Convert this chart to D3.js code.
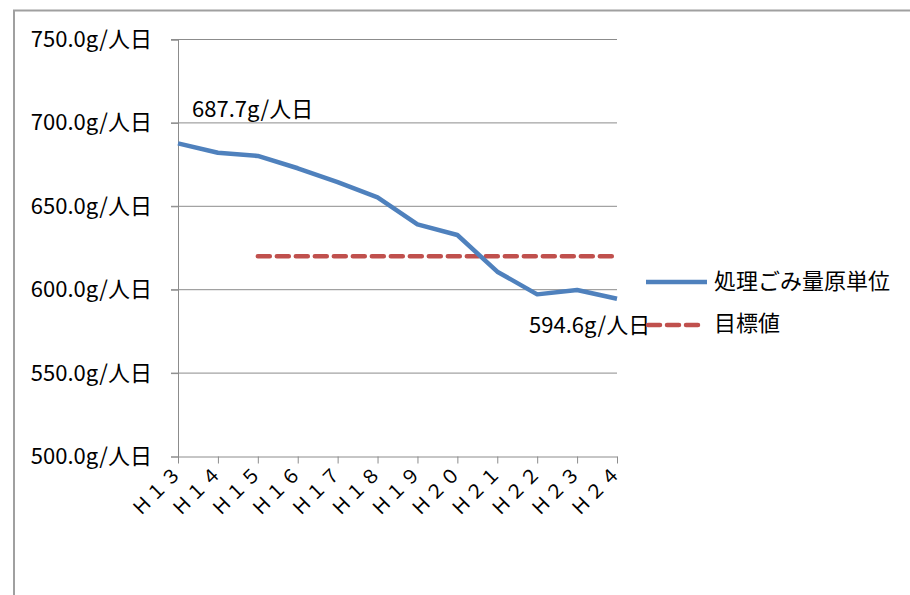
<!DOCTYPE html>
<html><head><meta charset="utf-8">
<script src="https://cdn.jsdelivr.net/npm/d3@7"></script>
<style>body{margin:0;background:#fff;} svg{display:block;}</style>
</head><body>
<svg id="c" width="910" height="595"></svg>
<script>
const categories = ["Ｈ１３","Ｈ１４","Ｈ１５","Ｈ１６","Ｈ１７","Ｈ１８","Ｈ１９","Ｈ２０","Ｈ２１","Ｈ２２","Ｈ２３","Ｈ２４"];
const actualValues = [687.7, 682.1, 680.2, 672.8, 664.5, 655.4, 639.2, 632.8, 610.8, 597.2, 599.8, 594.6];
const targetValues = [null, null, 620, 620, 620, 620, 620, 620, 620, 620, 620, 620];
const yTicks = [500, 550, 600, 650, 700, 750];
const seriesNames = ["処理ごみ量原単位", "目標値"];
const annotations = [{i: 0, text: "687.7g/人日"}, {i: 11, text: "594.6g/人日"}];

const svg = d3.select("#c");
const font = "'Noto Sans CJK JP', 'Noto Sans', sans-serif";
const grey = "#8c8c8c";

// outer border (top and left visible)
svg.append("path").attr("d", "M14,595 L14,10.5 L910,10.5").attr("fill","none").attr("stroke","#a0a0a0").attr("stroke-width",2);

const x = d3.scalePoint().domain(categories).range([178, 617]);
const y = d3.scaleLinear().domain([500, 750]).range([456.5, 39.5]);

// gridlines
svg.append("g").selectAll("line").data(yTicks.filter(d => d > 500)).join("line")
  .attr("x1", 171).attr("x2", 617).attr("y1", d => y(d)).attr("y2", d => y(d))
  .attr("stroke", grey).attr("stroke-width", 1);

// y axis
const yAxis = d3.axisLeft(y).tickValues(yTicks).tickSize(7).tickPadding(19).tickFormat(d => d3.format(".1f")(d) + "g/人日");
const gy = svg.append("g").attr("transform", "translate(178,0)").call(yAxis);
gy.select(".domain").attr("stroke", grey);
gy.selectAll(".tick line").attr("stroke", grey);
gy.selectAll("text").attr("font-family", font).attr("font-size", 22).attr("fill", "#000");

// x axis
const xAxis = d3.axisBottom(x).tickSize(7).tickSizeOuter(0);
const gx = svg.append("g").attr("transform", "translate(0,456.5)").call(xAxis);
gx.select(".domain").attr("stroke", grey);
gx.selectAll(".tick line").attr("stroke", grey);
gx.selectAll("text").attr("font-family", font).attr("font-size", 19).attr("fill", "#000")
  .attr("text-anchor", "end").attr("dy", null).attr("y", 0)
  .attr("transform", "translate(5,17) rotate(-45)")
  .style("letter-spacing", "1.5px");

// target dashed line
const line = d3.line().defined(d => d.v != null).x(d => x(d.c)).y(d => y(d.v));
svg.append("path").datum(categories.map((c, i) => ({c, v: targetValues[i]})))
  .attr("d", line).attr("fill", "none").attr("stroke", "#c0504d").attr("stroke-width", 4.5)
  .attr("stroke-dasharray", "12,7").attr("stroke-linecap", "round");

// actual line
svg.append("path").datum(categories.map((c, i) => ({c, v: actualValues[i]})))
  .attr("d", line).attr("fill", "none").attr("stroke", "#4f81bd").attr("stroke-width", 4.5)
  .attr("stroke-linejoin", "round");

// annotations
svg.append("text").attr("x", x(categories[annotations[0].i]) + 14).attr("y", y(actualValues[annotations[0].i]) - 26)
  .attr("font-family", font).attr("font-size", 22).text(annotations[0].text);
svg.append("text").attr("x", x(categories[annotations[1].i]) - 88).attr("y", y(actualValues[annotations[1].i]) + 34)
  .attr("font-family", font).attr("font-size", 22).text(annotations[1].text);

// legend
const lg = svg.append("g");
lg.append("line").attr("x1", 646).attr("x2", 707).attr("y1", 282).attr("y2", 282)
  .attr("stroke", "#4f81bd").attr("stroke-width", 4.5);
lg.append("text").attr("x", 714).attr("y", 289).attr("font-family", font).attr("font-size", 22).text(seriesNames[0]);
lg.append("line").attr("x1", 648).attr("x2", 700).attr("y1", 325).attr("y2", 325)
  .attr("stroke", "#c0504d").attr("stroke-width", 4.5).attr("stroke-dasharray", "12,7").attr("stroke-linecap", "round");
lg.append("text").attr("x", 714).attr("y", 331).attr("font-family", font).attr("font-size", 22).text(seriesNames[1]);
</script>
</body></html>
